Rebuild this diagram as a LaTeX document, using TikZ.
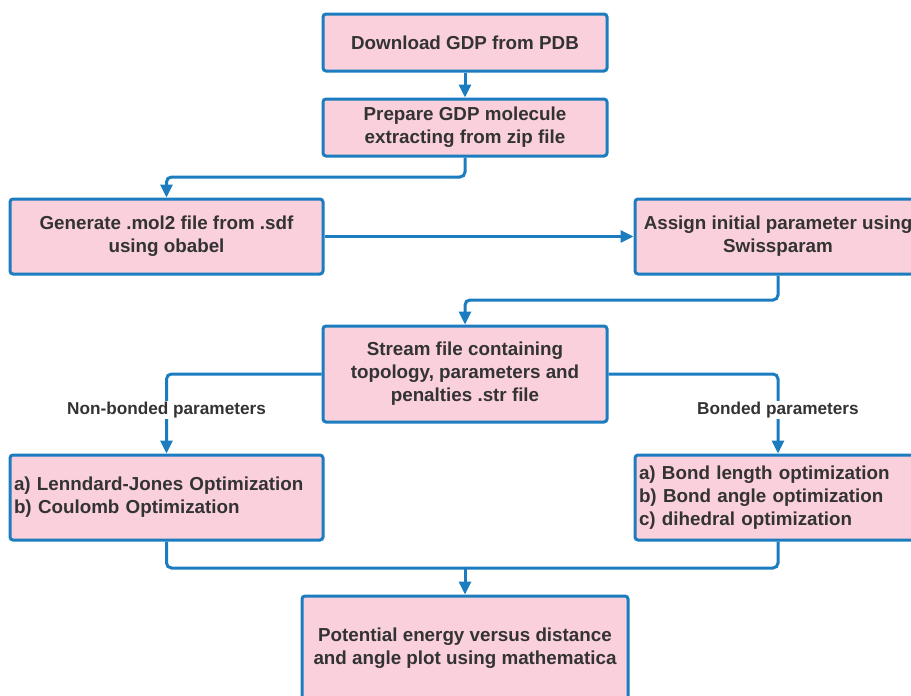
\documentclass[tikz,border=0pt]{standalone}
\usepackage{fontspec}
\setmainfont{Liberation Sans}
\usetikzlibrary{arrows.meta}
\definecolor{lblue}{RGB}{27,124,192}
\definecolor{lpink}{RGB}{249,208,220}
\definecolor{ltext}{RGB}{51,51,51}
\tikzset{
  box/.style={draw=lblue, fill=lpink, line width=3pt, rounded corners=3pt,
    text=ltext, font=\bfseries\fontsize{18.8}{23}\selectfont, align=center, inner sep=0pt},
  lbox/.style={box, align=left, inner xsep=4pt},
  conn/.style={draw=lblue, line width=3pt, rounded corners=5pt},
  arr/.style={conn, -{Triangle[width=12pt,length=13pt]}},
  lab/.style={fill=white, text=ltext, font=\bfseries\fontsize{17.2}{20}\selectfont, inner sep=1pt}
}
\begin{document}
\begin{tikzpicture}[x=1pt,y=-1pt]
\useasboundingbox (0,0) rectangle (911,696);
\node[box, minimum width=284, minimum height=57] (dl) at (465,42.5) {Download GDP from PDB};
\node[box, minimum width=284, minimum height=57] (prep) at (465,127.5) {Prepare GDP molecule\\extracting from zip file};
\node[box, minimum width=313, minimum height=75] (gen) at (166.5,236.5) {Generate .mol2 file from .sdf\\using obabel};
\node[box, minimum width=286, minimum height=75] (assign) at (778,236.5) {Assign initial parameter using\\Swissparam};
\node[box, minimum width=284, minimum height=96] (stream) at (465,374) {Stream file containing\\topology, parameters and\\penalties .str file};
\node[lbox, text width=305, minimum height=85] (lj) at (166.5,497.5) {a) Lenndard-Jones Optimization\\b) Coulomb Optimization};
\node[lbox, text width=278, minimum height=85] (bond) at (778,497.5) {a) Bond length optimization\\b) Bond angle optimization\\c) dihedral optimization};
\node[box, minimum width=326, minimum height=104] (pot) at (465,648) {Potential energy versus distance\\and angle plot using mathematica};
\coordinate (c1) at (465,177);
\coordinate (c2) at (778,300);
\coordinate (m) at (465,568);
\draw[arr] (dl.south) -- (prep.north);
\draw[arr] (prep.south) -- (c1) -| (gen.north);
\draw[arr] (gen.east) -- (assign.west);
\draw[arr] (assign.south) -- (c2) -| (stream.north);
\draw[arr] (stream.west) -| (lj.north);
\draw[arr] (stream.east) -| (bond.north);
\draw[conn] (lj.south) |- (m);
\draw[conn] (bond.south) |- (m);
\draw[arr] (m) -- (pot.north);
\node[lab] (l1) at (166.5,410) {Non-bonded parameters};
\node[lab] (l2) at (778,410) {Bonded parameters};
\end{tikzpicture}
\end{document}
